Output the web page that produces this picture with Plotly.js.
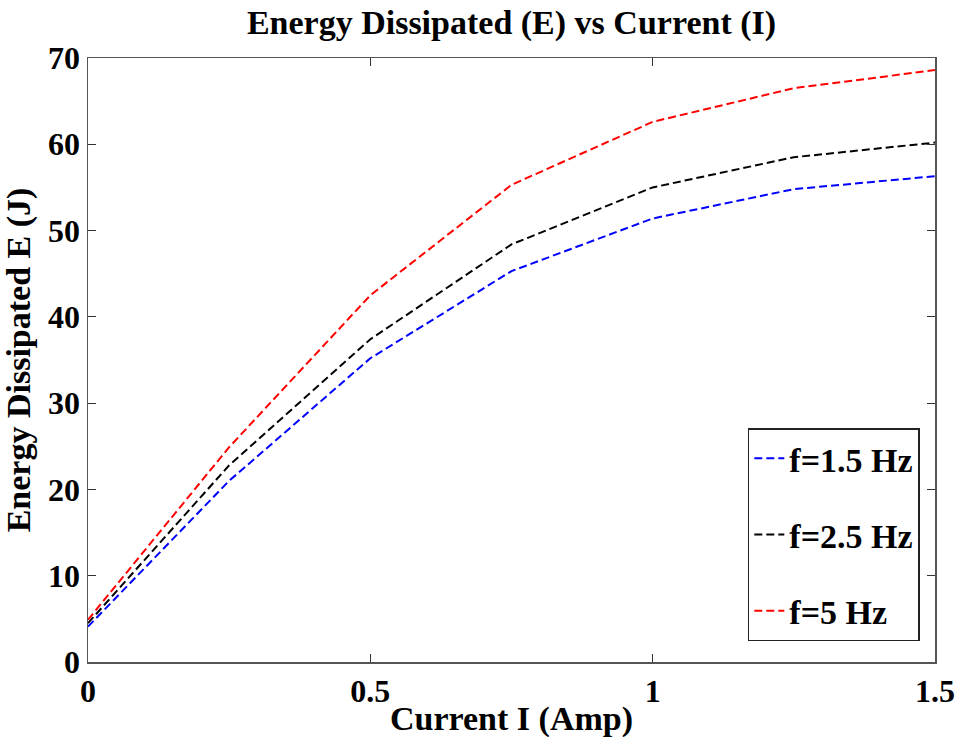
<!DOCTYPE html>
<html>
<head>
<meta charset="utf-8">
<script src="https://cdn.plot.ly/plotly-3.0.1.min.js"></script>
<style>html,body{margin:0;padding:0;background:#fff}#chart{width:961px;height:738px}</style>
</head>
<body>
<div id="chart"></div>
<script>
const current = [0, 0.25, 0.5, 0.75, 1.0, 1.25, 1.5];
const energy15 = [4.1, 21.0, 35.2, 45.3, 51.4, 54.8, 56.3];
const energy25 = [4.5, 22.8, 37.4, 48.4, 55.0, 58.5, 60.2];
const energy5 = [4.9, 24.9, 42.5, 55.3, 62.6, 66.5, 68.6];
const seriesNames = ["f=1.5 Hz", "f=2.5 Hz", "f=5 Hz"];
const xTicks = [0, 0.5, 1, 1.5];
const xTickLabels = ["0", "0.5", "1", "1.5"];
const yTicks = [0, 10, 20, 30, 40, 50, 60, 70];

const FONT = "Liberation Serif, Times New Roman, serif";
const colors = ["#0000ff", "#000000", "#ff0000"];
const ys = [energy15, energy25, energy5];
const traces = ys.map((y, i) => ({
  x: current, y: y, type: "scatter", mode: "lines", name: "<b>" + seriesNames[i] + "</b>",
  legendgroup: "g" + i,
  line: {color: colors[i], width: 2, dash: "8px,4px"}
}));

const layout = {
  width: 961, height: 738,
  margin: {l: 87.5, r: 25.5, t: 57.5, b: 75.5},
  paper_bgcolor: "#fff", plot_bgcolor: "#fff",
  font: {family: FONT, size: 32, color: "#000"},
  title: {text: "<b>Energy Dissipated (E) vs Current (I)</b>", xref: "paper", x: 0.5, xanchor: "center",
          y: 0.970, yanchor: "middle",
          font: {family: FONT, size: 34, color: "#000"}},
  xaxis: {range: [0, 1.5], tickvals: xTicks, ticktext: xTickLabels.map(t => "<b>" + t + "</b>"),
          showgrid: false, zeroline: false, showline: true, linecolor: "#555", linewidth: 1.5, mirror: "ticks",
          ticks: "inside", ticklen: 8, tickcolor: "#333",
          tickfont: {family: FONT, size: 32, color: "#000"},
          title: {text: "<b>Current I (Amp)</b>", font: {family: FONT, size: 34, color: "#000"}, standoff: 1}},
  yaxis: {range: [0, 70], tickvals: yTicks, ticktext: yTicks.map(t => "<b>" + t + "</b>"),
          showgrid: false, zeroline: false, showline: true, linecolor: "#555", linewidth: 1.5, mirror: "ticks",
          ticks: "inside", ticklen: 8, tickcolor: "#333",
          tickfont: {family: FONT, size: 32, color: "#000"},
          title: {text: "<b>Energy Dissipated E (J)</b>", font: {family: FONT, size: 34, color: "#000"}, standoff: 8}},
  legend: {x: 0.779, y: 0.387, xanchor: "left", yanchor: "top", bgcolor: "#fff",
           bordercolor: "#222", borderwidth: 1.5, traceorder: "grouped", tracegroupgap: 29,
           font: {family: FONT, size: 34, color: "#000"}, itemwidth: 30},
  showlegend: true
};
Plotly.newPlot("chart", traces, layout, {staticPlot: true});
</script>
</body>
</html>
